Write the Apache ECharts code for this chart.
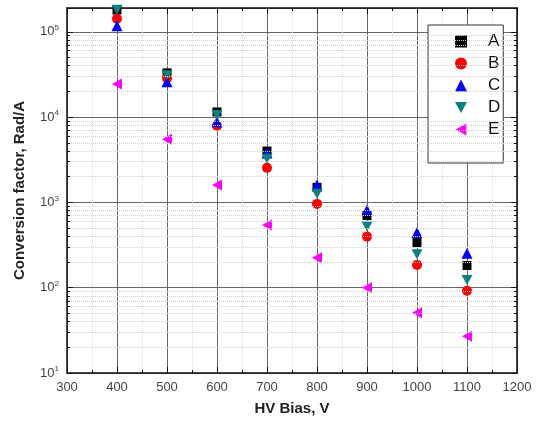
<!DOCTYPE html>
<html lang="en">
<head>
    <meta charset="utf-8"/>
    <title>Conversion factor</title>
    <script type="text/javascript" src="https://cdn.jsdelivr.net/npm/echarts@6/dist/echarts.min.js"></script>
</head>
<body style="margin: 0;">
<div id="container" style="width: 537px; height: 422px;"></div>
<script type="text/javascript">
    // HV bias values (V)
    var bias = [400, 500, 600, 700, 800, 900, 1000, 1100];
    // conversion factor, Rad/A
    var seriesA = [180000, 33000, 11500, 4000, 1500, 700, 338, 182];
    var seriesB = [142000, 28500, 7900, 2540, 960, 397, 185, 92];
    var seriesC = [118000, 26000, 8800, 3800, 1600, 817, 443, 254];
    var seriesD = [181000, 31000, 10600, 3240, 1260, 520, 247, 123];
    var seriesE = [24500, 5500, 1600, 545, 225, 100, 51, 27];
    var names = ['A', 'B', 'C', 'D', 'E'];
    var yMin = 10, yMax = 190000;
    var decades = [10, 100, 1000, 10000, 100000];

    // minor log grid at 2..9 x each decade
    var minorY = [];
    decades.forEach(function (d) {
        for (var k = 2; k <= 9; k++) {
            if (d * k < yMax) minorY.push(d * k);
        }
    });

    function pair(ys) {
        return bias.map(function (x, i) { return [x, ys[i]]; });
    }

    var gridLines = minorY.map(function (v) { return {yAxis: v}; });
    var tickMarks = [];
    minorY.forEach(function (v) {
        tickMarks.push([{coord: [300, v]}, {coord: [306, v]}]);
        tickMarks.push([{coord: [1194, v]}, {coord: [1200, v]}]);
    });

    var dom = document.getElementById("container");
    var myChart = echarts.init(dom);
    var font = 'Liberation Sans, Arial, sans-serif';

    var supLabel = {
        fontFamily: font,
        fontSize: 13,
        color: '#444',
        formatter: function (v) {
            var e = Math.round(Math.log10(v));
            if (Math.abs(Math.pow(10, e) - v) > 1e-6 * v) return '';
            return '10{sup|' + e + '}';
        },
        rich: {
            sup: {fontSize: 8, fontFamily: font, color: '#444', padding: [0, 0, 8, 0]}
        }
    };

    var downTri = 'path://M0,0 L10,0 L5,9 Z';
    var leftTri = 'path://M0,5 L9,0 L9,10 Z';

    function mark(color) {
        return {color: color, opacity: 1, borderWidth: 0};
    }

    var option = {
        animation: false,
        grid: {left: 67, right: 20, top: 8, bottom: 49},
        legend: {
            orient: 'vertical',
            left: 428,
            top: 25,
            padding: [8, 3, 25, 27],
            itemGap: 5,
            itemWidth: 12,
            itemHeight: 12,
            backgroundColor: '#fff',
            borderColor: '#333',
            borderWidth: 1,
            textStyle: {fontFamily: font, fontSize: 17, color: '#111', padding: [0, 0, 0, 16]},
            data: names
        },
        xAxis: [{
            type: 'value',
            min: 300,
            max: 1200,
            interval: 100,
            name: 'HV Bias, V',
            nameLocation: 'middle',
            nameGap: 28,
            nameTextStyle: {fontFamily: font, fontSize: 15, fontWeight: 'bold', color: '#222'},
            axisLine: {show: true, onZero: false, lineStyle: {color: '#111', width: 1.5}},
            axisTick: {show: true, inside: true, length: 6, lineStyle: {color: '#111'}},
            minorTick: {show: true, splitNumber: 2, length: 3, lineStyle: {color: '#111'}},
            axisLabel: {fontFamily: font, fontSize: 13, color: '#444', margin: 8,
                formatter: function (v) { return String(v); }},
            splitLine: {show: true, lineStyle: {color: '#666', width: 1}},
            minorSplitLine: {show: true, lineStyle: {color: '#ddd', type: 'dotted'}}
        }, {
            type: 'value',
            position: 'top',
            min: 300,
            max: 1200,
            interval: 100,
            axisLine: {show: true, onZero: false, lineStyle: {color: '#111', width: 1.5}},
            axisTick: {show: true, inside: true, length: 6, lineStyle: {color: '#111'}},
            minorTick: {show: true, splitNumber: 2, length: 3, lineStyle: {color: '#111'}},
            axisLabel: {show: false},
            splitLine: {show: false}
        }],
        yAxis: [{
            type: 'log',
            logBase: 10,
            min: yMin,
            max: yMax,
            name: 'Conversion factor, Rad/A',
            nameLocation: 'middle',
            nameGap: 40,
            nameTextStyle: {fontFamily: font, fontSize: 15, fontWeight: 'bold', color: '#222'},
            axisLine: {show: true, lineStyle: {color: '#111', width: 1.5}},
            axisTick: {show: true, inside: true, length: 6, lineStyle: {color: '#111'}},
            axisLabel: supLabel,
            splitLine: {show: true, lineStyle: {color: '#666', width: 1}}
        }, {
            type: 'log',
            logBase: 10,
            min: yMin,
            max: yMax,
            position: 'right',
            axisLine: {show: true, lineStyle: {color: '#111', width: 1.5}},
            axisTick: {show: true, inside: true, length: 6, lineStyle: {color: '#111'}},
            axisLabel: {show: false},
            splitLine: {show: false}
        }],
        series: [
            {
                name: 'grid', type: 'line', data: [], z: 1,
                markLine: {
                    silent: true, symbol: 'none', label: {show: false}, animation: false,
                    lineStyle: {color: '#d0d0d0', type: 'dotted', width: 1},
                    data: gridLines
                }
            },
            {
                name: 'ticks', type: 'line', data: [], z: 1,
                markLine: {
                    silent: true, symbol: 'none', label: {show: false}, animation: false,
                    lineStyle: {color: '#111', type: 'solid', width: 1},
                    data: tickMarks
                }
            },
            {
                name: 'A', type: 'scatter', symbol: 'rect', symbolSize: 9, z: 3,
                itemStyle: mark('#000'), data: pair(seriesA)
            },
            {
                name: 'B', type: 'scatter', symbol: 'circle', symbolSize: 10, z: 3,
                itemStyle: mark('#ff0000'), data: pair(seriesB)
            },
            {
                name: 'C', type: 'scatter', symbol: 'triangle', symbolSize: 11, z: 3,
                itemStyle: mark('#0000ff'), data: pair(seriesC)
            },
            {
                name: 'D', type: 'scatter', symbol: downTri, symbolSize: [11, 10], z: 3,
                itemStyle: mark('#0f8080'), data: pair(seriesD)
            },
            {
                name: 'E', type: 'scatter', symbol: leftTri, symbolSize: [10, 11], z: 3,
                itemStyle: mark('#ff00ff'), data: pair(seriesE)
            }
        ]
    };
    if (option && typeof option === "object") {
        myChart.setOption(option, true);
    }
</script>
</body>
</html>
